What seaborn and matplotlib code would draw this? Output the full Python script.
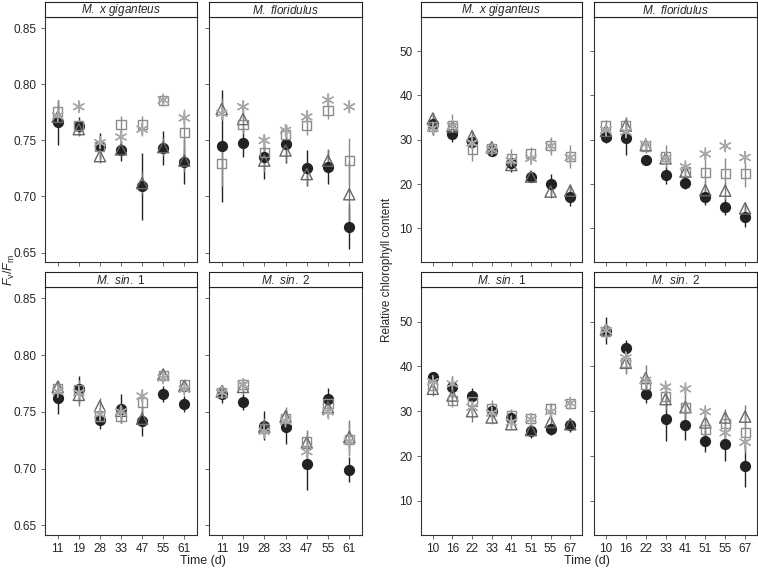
import numpy as np
import pandas as pd
import seaborn as sns
import matplotlib.pyplot as plt

# x categories
fv_days = [11, 19, 28, 33, 47, 55, 61]
chl_days = [10, 16, 22, 33, 41, 51, 55, 67]

species = [r'$\mathit{M.\ x\ giganteus}$', r'$\mathit{M.\ floridulus}$',
           r'$\mathit{M.\ sin.}$ 1', r'$\mathit{M.\ sin.}$ 2']

# rows: circle, triangle, square, asterisk
fv_giganteus = [[0.766, 0.763, 0.745, 0.741, 0.709, 0.743, 0.731],
                [0.771, 0.760, 0.736, 0.742, 0.712, 0.744, 0.732],
                [0.776, 0.763, 0.745, 0.764, 0.764, 0.786, 0.757],
                [0.772, 0.780, 0.748, 0.753, 0.760, 0.786, 0.770]]
fv_giganteus_err = [[0.020, 0.008, 0.012, 0.009, 0.030, 0.015, 0.020],
                    [0.010, 0.006, 0.006, 0.006, 0.010, 0.008, 0.010],
                    [0.010, 0.006, 0.008, 0.008, 0.008, 0.004, 0.020],
                    [0.006, 0.004, 0.006, 0.006, 0.006, 0.004, 0.008]]
fv_floridulus = [[0.745, 0.748, 0.735, 0.747, 0.725, 0.726, 0.673],
                 [0.778, 0.769, 0.732, 0.741, 0.720, 0.732, 0.702],
                 [0.729, 0.764, 0.739, 0.755, 0.763, 0.777, 0.732],
                 [0.774, 0.780, 0.750, 0.759, 0.771, 0.786, 0.780]]
fv_floridulus_err = [[0.050, 0.013, 0.019, 0.017, 0.016, 0.015, 0.020],
                     [0.010, 0.010, 0.010, 0.010, 0.010, 0.010, 0.030],
                     [0.020, 0.008, 0.010, 0.008, 0.008, 0.008, 0.020],
                     [0.006, 0.006, 0.006, 0.006, 0.006, 0.006, 0.006]]
fv_sin1 = [[0.762, 0.770, 0.743, 0.753, 0.742, 0.766, 0.757],
           [0.772, 0.765, 0.755, 0.751, 0.744, 0.783, 0.773],
           [0.771, 0.770, 0.746, 0.746, 0.758, 0.782, 0.774],
           [0.768, 0.767, 0.748, 0.750, 0.764, 0.780, 0.770]]
fv_sin1_err = [[0.014, 0.012, 0.008, 0.013, 0.013, 0.007, 0.007],
               [0.006, 0.010, 0.007, 0.006, 0.008, 0.004, 0.004],
               [0.006, 0.008, 0.006, 0.006, 0.008, 0.004, 0.004],
               [0.005, 0.006, 0.005, 0.005, 0.006, 0.004, 0.004]]
fv_sin2 = [[0.766, 0.759, 0.738, 0.737, 0.704, 0.761, 0.699],
           [0.768, 0.772, 0.737, 0.746, 0.723, 0.754, 0.728],
           [0.767, 0.774, 0.735, 0.744, 0.724, 0.757, 0.726],
           [0.767, 0.774, 0.733, 0.742, 0.715, 0.750, 0.724]]
fv_sin2_err = [[0.008, 0.007, 0.013, 0.015, 0.023, 0.010, 0.011],
               [0.006, 0.006, 0.008, 0.008, 0.010, 0.008, 0.015],
               [0.006, 0.006, 0.008, 0.008, 0.010, 0.008, 0.015],
               [0.005, 0.005, 0.006, 0.006, 0.008, 0.006, 0.010]]

chl_giganteus = [[33.5, 31.4, 29.5, 27.5, 24.8, 21.6, 19.9, 17.1],
                 [34.8, 33.0, 30.8, 28.3, 24.3, 21.7, 18.3, 18.5],
                 [32.9, 33.1, 27.7, 28.0, 25.8, 26.9, 28.6, 26.2],
                 [32.6, 33.1, 29.3, 27.8, 25.3, 25.8, 28.6, 26.0]]
chl_giganteus_err = [[2.5, 2.0, 1.5, 1.0, 2.0, 1.2, 2.3, 2.0],
                     [1.2, 1.0, 1.0, 1.0, 1.2, 1.0, 1.5, 1.5],
                     [1.5, 2.8, 2.5, 1.5, 2.0, 1.5, 2.0, 2.5],
                     [1.0, 1.0, 1.0, 1.0, 1.0, 1.0, 1.0, 1.0]]
chl_floridulus = [[30.7, 30.5, 25.4, 22.0, 20.3, 17.1, 14.9, 12.6],
                  [32.0, 33.2, 28.8, 25.8, 22.8, 18.6, 18.5, 14.5],
                  [33.2, 33.1, 28.4, 26.2, 22.8, 22.6, 22.3, 22.3],
                  [32.2, 31.8, 29.0, 25.8, 23.9, 26.8, 28.6, 26.0]]
chl_floridulus_err = [[1.5, 4.0, 1.0, 2.0, 1.5, 1.8, 2.0, 2.4],
                      [1.0, 2.0, 1.0, 1.5, 1.0, 2.0, 2.0, 1.5],
                      [1.2, 2.0, 1.5, 2.5, 2.0, 4.5, 3.5, 3.0],
                      [1.0, 1.0, 1.0, 1.0, 1.0, 1.0, 1.0, 1.0]]
chl_sin1 = [[37.6, 35.4, 33.3, 30.0, 28.5, 25.6, 26.1, 26.9],
            [35.0, 33.5, 30.0, 28.6, 27.1, 25.8, 27.6, 27.1],
            [35.7, 32.5, 32.2, 30.5, 29.0, 28.4, 30.7, 31.8],
            [36.6, 36.1, 30.9, 29.6, 27.6, 28.2, 29.9, 31.8]]
chl_sin1_err = [[1.2, 2.5, 1.8, 1.5, 1.5, 1.5, 1.5, 1.5],
                [1.5, 2.0, 2.5, 1.5, 1.0, 1.0, 1.5, 1.0],
                [1.0, 1.5, 1.5, 2.0, 1.5, 1.2, 1.2, 1.0],
                [1.0, 1.0, 1.0, 1.0, 1.0, 1.0, 1.0, 1.0]]
chl_sin2 = [[48.0, 44.1, 33.9, 28.2, 27.0, 23.4, 22.8, 17.7],
            [48.2, 40.8, 37.4, 32.7, 30.9, 27.5, 28.6, 28.8],
            [47.8, 40.8, 35.9, 33.3, 30.9, 26.0, 27.3, 25.2],
            [48.0, 41.9, 36.9, 35.4, 35.0, 29.9, 25.2, 23.1]]
chl_sin2_err = [[3.0, 1.7, 2.0, 4.8, 3.4, 2.5, 4.0, 4.5],
                [1.5, 2.5, 3.0, 2.5, 4.0, 3.0, 2.0, 2.5],
                [1.5, 2.0, 2.0, 2.0, 2.0, 2.0, 2.0, 4.5],
                [1.0, 1.0, 1.0, 1.0, 1.0, 1.0, 1.0, 1.0]]

markers = ['o', '^', 's', (6, 2, 0)]
sizes = [50, 65, 42, 70]
colors = ['#222222', '#666666', '#8c8c8c', '#a8a8a8']
err_colors = ['#222222', '#7a7a7a', '#8c8c8c', '#a8a8a8']

sns.set_style('ticks')
plt.rcParams['font.family'] = ['Liberation Sans', 'DejaVu Sans']
plt.rcParams['mathtext.fontset'] = 'custom'
plt.rcParams['mathtext.rm'] = 'Liberation Sans'
plt.rcParams['mathtext.it'] = 'Liberation Sans:italic'

W, H = 758, 568
fig = plt.figure(figsize=(W / 100, H / 100), dpi=100)


def rect(x0, y0, x1, y1):
    return [x0 / W, 1 - y1 / H, (x1 - x0) / W, (y1 - y0) / H]


def draw_panel(ax, days, means, errs, ylim, yticks, show_y, show_x):
    pos = np.arange(len(days))
    for k in range(4):
        ax.errorbar(pos, means[k], yerr=errs[k], fmt='none', ecolor=err_colors[k],
                    elinewidth=1.0, capsize=0, zorder=2)
    for k in range(4):
        df = pd.DataFrame({'pos': pos, 'val': means[k]})
        sns.scatterplot(data=df, x='pos', y='val', marker=markers[k], s=sizes[k],
                        color=colors[k], ax=ax, legend=False, zorder=3 + k)
        pc = ax.collections[-1]
        pc.set_edgecolor(colors[k])
        pc.set_facecolor(colors[k] if k == 0 else 'none')
        pc.set_linewidth(1.0)
    ax.set_xlim(-0.6, len(days) - 0.4)
    ax.set_ylim(*ylim)
    ax.set_xticks(pos)
    ax.set_xticklabels([str(d) for d in days] if show_x else [])
    ax.set_yticks(yticks)
    if show_y:
        ax.set_yticklabels([f'{t:.2f}' if t < 1 else f'{t:g}' for t in yticks])
    else:
        ax.set_yticklabels([])
    ax.set_xlabel('')
    ax.set_ylabel('')
    ax.tick_params(direction='out', length=3, width=0.7, color='#666666',
                   labelsize=8.5, pad=3)
    for sp in ax.spines.values():
        sp.set_visible(True)
        sp.set_linewidth(0.8)
        sp.set_color('#333333')


def add_header(x0, x1, y0, y1, label):
    hax = fig.add_axes(rect(x0, y0, x1, y1))
    hax.set_xticks([])
    hax.set_yticks([])
    for sp in hax.spines.values():
        sp.set_linewidth(0.8)
        sp.set_color('#222222')
    hax.text(0.5, 0.45, label, ha='center', va='center', fontsize=8.5,
             transform=hax.transAxes)


rows = [(17, 262), (287, 535)]
head_rows = [(2, 17), (272, 287)]

groups = [
    ([(45, 197), (209, 362)], fv_days,
     [fv_giganteus, fv_floridulus, fv_sin1, fv_sin2],
     [fv_giganteus_err, fv_floridulus_err, fv_sin1_err, fv_sin2_err],
     (0.6416, 0.860), [0.65, 0.70, 0.75, 0.80, 0.85]),
    ([(421, 582), (594, 757)], chl_days,
     [chl_giganteus, chl_floridulus, chl_sin1, chl_sin2],
     [chl_giganteus_err, chl_floridulus_err, chl_sin1_err, chl_sin2_err],
     (2.4, 57.7), [10, 20, 30, 40, 50]),
]

for cols, days, data, errs, ylim, yticks in groups:
    for i in range(4):
        r, c = divmod(i, 2)
        x0, x1 = cols[c]
        y0, y1 = rows[r]
        ax = fig.add_axes(rect(x0, y0, x1, y1))
        draw_panel(ax, days, data[i], errs[i], ylim, yticks,
                   show_y=(c == 0), show_x=(r == 1))
        add_header(x0, x1, head_rows[r][0], head_rows[r][1], species[i])

fig.text(9 / W, 1 - 270 / H, r'$F_\mathrm{v}/F_\mathrm{m}$', rotation=90,
         ha='center', va='center', fontsize=9)
fig.text(387 / W, 1 - 270 / H, 'Relative chlorophyll content', rotation=90,
         ha='center', va='center', fontsize=8.5)
fig.text(203 / W, 1 - 561 / H, 'Time (d)', ha='center', va='center', fontsize=9)
fig.text(587 / W, 1 - 561 / H, 'Time (d)', ha='center', va='center', fontsize=9)

fig.savefig('out.png', dpi=100)
